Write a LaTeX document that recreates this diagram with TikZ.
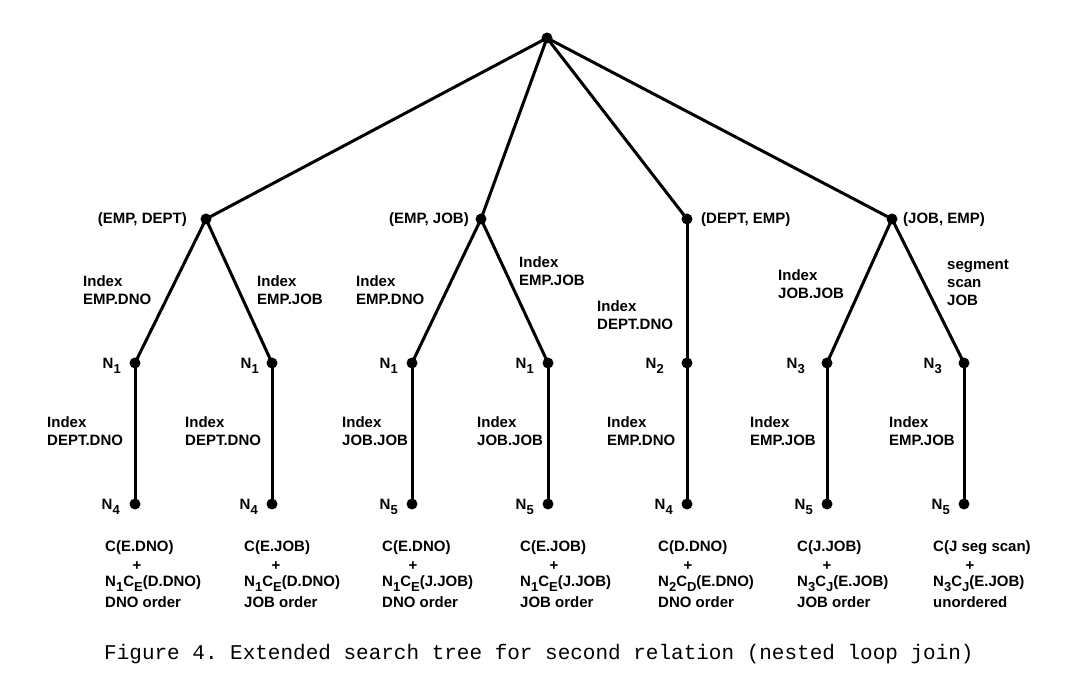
\documentclass[tikz,border=0pt]{standalone}
\usepackage{fontspec}
\setmainfont{Liberation Sans}
\newfontfamily\lblfont{Liberation Sans}
\setmonofont{Liberation Mono}
\newcommand\lowsub[1]{\raisebox{-0.34em}{\fontsize{13}{13}\selectfont #1}}
\begin{document}
\begin{tikzpicture}[x=1pt,y=-1pt,
  dot/.style={circle,fill=black,inner sep=0pt,minimum size=11pt},
  edge/.style={line width=3pt},
  lab/.style={font=\lblfont\bfseries\fontsize{15}{18}\selectfont,align=left,inner sep=0pt,anchor=west},
  nlab/.style={font=\lblfont\bfseries\fontsize{15}{18}\selectfont,inner sep=0pt,anchor=east},
  cost/.style={font=\lblfont\bfseries\fontsize{15}{18}\selectfont,inner sep=0pt,anchor=west},
  plus/.style={font=\lblfont\bfseries\fontsize{15}{18}\selectfont,inner sep=0pt}]
\fill[white] (0,0) rectangle (1080,692);
\useasboundingbox (0,0) rectangle (1080,692);
% nodes
\node[dot] (r) at (547,38) {};
\node[dot] (a) at (206,219) {};
\node[dot] (b) at (481,219) {};
\node[dot] (c) at (687,219) {};
\node[dot] (d) at (892,219) {};
\node[dot] (a1) at (135,363) {};
\node[dot] (a2) at (272,363) {};
\node[dot] (b1) at (412,363) {};
\node[dot] (b2) at (548,363) {};
\node[dot] (c1) at (687,363) {};
\node[dot] (d1) at (827,363) {};
\node[dot] (d2) at (964,363) {};
\node[dot] (a1l) at (135,504) {};
\node[dot] (a2l) at (272,504) {};
\node[dot] (b1l) at (412,504) {};
\node[dot] (b2l) at (548,504) {};
\node[dot] (c1l) at (687,504) {};
\node[dot] (d1l) at (827,504) {};
\node[dot] (d2l) at (964,504) {};
% edges
\foreach \u/\v in {r/a,r/b,r/c,r/d,a/a1,a/a2,b/b1,b/b2,c/c1,d/d1,d/d2,a1/a1l,a2/a2l,b1/b1l,b2/b2l,c1/c1l,d1/d1l,d2/d2l}
  \draw[edge] (\u.center) -- (\v.center);
% top labels
\node[nlab] (la) at (187,220) {(EMP, DEPT)};
\node[nlab] (lb) at (469,220) {(EMP, JOB)};
\node[lab] (lc) at (701,220) {(DEPT, EMP)};
\node[lab] (ld) at (903,220) {(JOB, EMP)};
% edge labels level 2
\node[lab] (ea1) at (83,290) {Index\\EMP.DNO};
\node[lab] (ea2) at (257,290) {Index\\EMP.JOB};
\node[lab] (eb1) at (356,290) {Index\\EMP.DNO};
\node[lab] (eb2) at (519,271) {Index\\EMP.JOB};
\node[lab] (ec1) at (597,315) {Index\\DEPT.DNO};
\node[lab] (ed1) at (778,284) {Index\\JOB.JOB};
\node[lab] (ed2) at (947,283) {segment\\scan\\JOB};
% edge labels level 3
\node[lab] (fa1) at (47,431) {Index\\DEPT.DNO};
\node[lab] (fa2) at (185,431) {Index\\DEPT.DNO};
\node[lab] (fb1) at (342,431) {Index\\JOB.JOB};
\node[lab] (fb2) at (477,431) {Index\\JOB.JOB};
\node[lab] (fc1) at (607,431) {Index\\EMP.DNO};
\node[lab] (fd1) at (750,431) {Index\\EMP.JOB};
\node[lab] (fd2) at (889,431) {Index\\EMP.JOB};
% N labels level 2
\node[nlab] (na1) at (121,366) {N\lowsub{1}};
\node[nlab] (na2) at (259,366) {N\lowsub{1}};
\node[nlab] (nb1) at (398,366) {N\lowsub{1}};
\node[nlab] (nb2) at (534,366) {N\lowsub{1}};
\node[nlab] (nc1) at (664,366) {N\lowsub{2}};
\node[nlab] (nd1) at (805,366) {N\lowsub{3}};
\node[nlab] (nd2) at (942,366) {N\lowsub{3}};
% N labels level 3
\node[nlab] (ma1) at (120,507) {N\lowsub{4}};
\node[nlab] (ma2) at (258,507) {N\lowsub{4}};
\node[nlab] (mb1) at (398,507) {N\lowsub{5}};
\node[nlab] (mb2) at (534,507) {N\lowsub{5}};
\node[nlab] (mc1) at (673,507) {N\lowsub{4}};
\node[nlab] (md1) at (813,507) {N\lowsub{5}};
\node[nlab] (md2) at (950,507) {N\lowsub{5}};
% cost blocks
\foreach \n/\x/\px/\la/\lc/\ld in {
  1/105/137/{C(E.DNO)}/{N\lowsub{1}C\lowsub{E}(D.DNO)}/{DNO order},
  2/244/276/{C(E.JOB)}/{N\lowsub{1}C\lowsub{E}(D.DNO)}/{JOB order},
  3/382/413/{C(E.DNO)}/{N\lowsub{1}C\lowsub{E}(J.JOB)}/{DNO order},
  4/520/554/{C(E.JOB)}/{N\lowsub{1}C\lowsub{E}(J.JOB)}/{JOB order},
  5/658/688/{C(D.DNO)}/{N\lowsub{2}C\lowsub{D}(E.DNO)}/{DNO order},
  6/797/827/{C(J.JOB)}/{N\lowsub{3}C\lowsub{J}(E.JOB)}/{JOB order},
  7/933/970/{C(J seg scan)}/{N\lowsub{3}C\lowsub{J}(E.JOB)}/{unordered}} {
  \node[cost] (ca\n) at (\x,548) {\la};
  \node[plus] (cb\n) at (\px,566) {+};
  \node[cost] (cc\n) at (\x,584) {\lc};
  \node[cost] (cd\n) at (\x,602) {\ld};
}
% caption
\node[font=\ttfamily\fontsize{21}{24}\selectfont,inner sep=0pt,anchor=west] (cap) at (104,654) {Figure 4. Extended search tree for second relation (nested loop join)};
\end{tikzpicture}
\end{document}
